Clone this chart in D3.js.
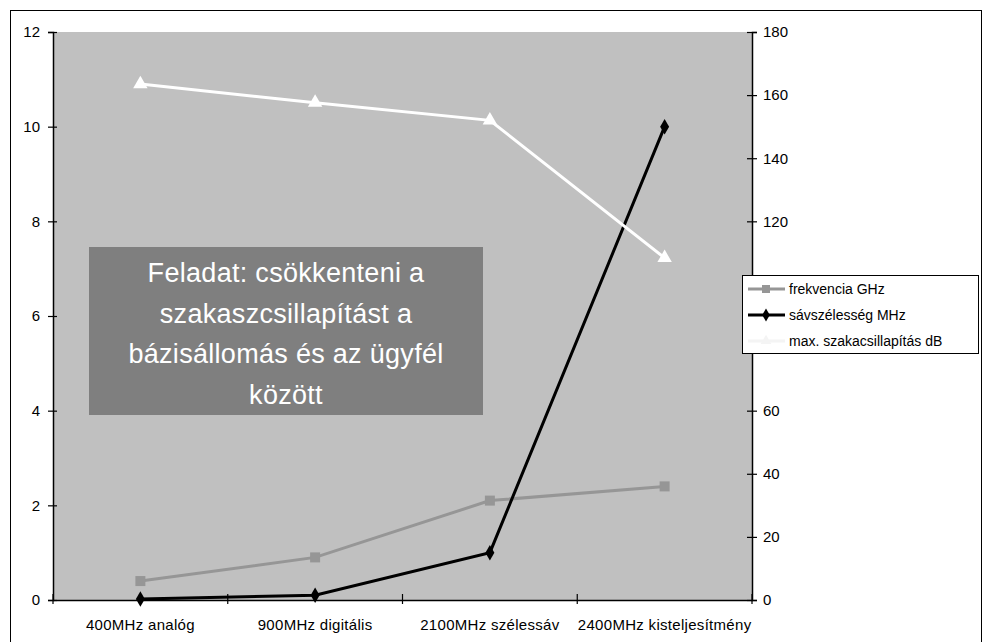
<!DOCTYPE html>
<html><head><meta charset="utf-8">
<script src="https://cdn.jsdelivr.net/npm/d3@7"></script>
<style>body{margin:0;background:#fff}svg{display:block}text{font-family:"Liberation Sans",Arial,sans-serif}</style>
</head><body>
<svg id="c" width="985" height="642"></svg>
<script>
const categories = ["400MHz analóg", "900MHz digitális", "2100MHz szélessáv", "2400MHz kisteljesítmény"];
const frekvencia = [0.4, 0.9, 2.1, 2.4];          // left axis
const savszelesseg = [0.02, 0.1, 1, 10];          // left axis
const csillapitas = [163.5, 157.6, 152, 108.4];   // right axis
const leftTicks = [0, 2, 4, 6, 8, 10, 12];
const rightTicks = [0, 20, 40, 60, 80, 100, 120, 140, 160, 180];
const seriesNames = ["frekvencia GHz", "sávszélesség MHz", "max. szakacsillapítás dB"];
const noteLines = ["Feladat: csökkenteni a", "szakaszcsillapítást a", "bázisállomás és az ügyfél", "között"];

const svg = d3.select("#c");
const L = 53, R = 752, T = 32, B = 600;

svg.append("rect").attr("x", 10.5).attr("y", 10.5).attr("width", 971).attr("height", 660)
  .attr("fill", "#fff").attr("stroke", "#000");
svg.append("rect").attr("x", L).attr("y", T).attr("width", R - L).attr("height", B - T).attr("fill", "#c0c0c0");

const x = d3.scaleBand().domain(categories).range([L, R]).padding(0);
const yL = d3.scaleLinear().domain([0, 12]).range([B, T]);
const yR = d3.scaleLinear().domain([0, 180]).range([B, T]);

// axes
const gL = svg.append("g").attr("transform", `translate(${L},0)`)
  .call(d3.axisLeft(yL).tickValues(leftTicks).tickSize(5).tickPadding(8));
const gR = svg.append("g").attr("transform", `translate(${R},0)`)
  .call(d3.axisRight(yR).tickValues(rightTicks).tickSize(5).tickPadding(6));
const gB = svg.append("g").attr("transform", `translate(0,${B})`)
  .call(d3.axisBottom(x).tickSize(0).tickPadding(19));
[gL, gR, gB].forEach(g => {
  g.selectAll("text").attr("font-size", 15).attr("fill", "#000").style("font-family", "Liberation Sans, Arial, sans-serif");
  g.select(".domain").attr("stroke", "#000").attr("stroke-width", 1.5);
  g.selectAll(".tick line").attr("stroke", "#000").attr("stroke-width", 1.2);
});
gB.selectAll("text").attr("letter-spacing", 0.3);
// cross ticks
gL.selectAll(".tick line").attr("x1", 4);
gR.selectAll(".tick line").attr("x1", -5);
// category boundary ticks on x axis
const bounds = categories.map(c => x(c)).concat([R]);
svg.append("g").selectAll("line").data(bounds).join("line")
  .attr("x1", d => d).attr("x2", d => d).attr("y1", B - 6).attr("y2", B + 4)
  .attr("stroke", "#000").attr("stroke-width", 1.2);

const cx = (d, i) => x(categories[i]) + x.bandwidth() / 2;

// note box
svg.append("rect").attr("x", 89).attr("y", 247).attr("width", 394).attr("height", 168).attr("fill", "#7f7f7f");
svg.append("g").selectAll("text").data(noteLines).join("text")
  .attr("x", 286).attr("y", (d, i) => 282 + i * 40.5).attr("text-anchor", "middle")
  .attr("font-size", 27).attr("fill", "#fff").attr("letter-spacing", 0.3).text(d => d);

const line = (ys, yscale) => d3.line().x(cx).y(d => yscale(d))(ys);

// frekvencia
svg.append("path").attr("d", line(frekvencia, yL)).attr("fill", "none").attr("stroke", "#969696").attr("stroke-width", 3);
svg.append("g").selectAll("rect").data(frekvencia).join("rect")
  .attr("x", (d, i) => cx(d, i) - 5).attr("y", d => yL(d) - 5).attr("width", 10).attr("height", 10).attr("fill", "#969696");

// sávszélesség
svg.append("path").attr("d", line(savszelesseg, yL)).attr("fill", "none").attr("stroke", "#000").attr("stroke-width", 3);
svg.append("g").selectAll("path").data(savszelesseg).join("path")
  .attr("d", d3.symbol(d3.symbolDiamond, 70))
  .attr("transform", (d, i) => `translate(${cx(d, i)},${yL(d)})`).attr("fill", "#000");

// csillapítás
svg.append("path").attr("d", line(csillapitas, yR)).attr("fill", "none").attr("stroke", "#fff").attr("stroke-width", 3);
svg.append("g").selectAll("path").data(csillapitas).join("path")
  .attr("d", d3.symbol(d3.symbolTriangle, 90))
  .attr("transform", (d, i) => `translate(${cx(d, i)},${yR(d)})`).attr("fill", "#fff");

// legend
const lg = svg.append("g");
lg.append("rect").attr("x", 742.5).attr("y", 275.5).attr("width", 236).attr("height", 78).attr("fill", "#fff").attr("stroke", "#000");
const legY = [289, 315, 341];
const legColors = ["#969696", "#000", "#f4f4f4"];
legY.forEach((yy, i) => {
  lg.append("line").attr("x1", 748).attr("x2", 785).attr("y1", yy).attr("y2", yy).attr("stroke", legColors[i]).attr("stroke-width", 3);
  if (i === 0) lg.append("rect").attr("x", 762).attr("y", yy - 4).attr("width", 8).attr("height", 8).attr("fill", legColors[i]);
  if (i === 1) lg.append("path").attr("d", d3.symbol(d3.symbolDiamond, 50)).attr("transform", `translate(766,${yy})`).attr("fill", "#000");
  if (i === 2) lg.append("path").attr("d", d3.symbol(d3.symbolTriangle, 50)).attr("transform", `translate(766,${yy})`).attr("fill", legColors[i]);
  lg.append("text").attr("x", 789).attr("y", yy + 5).attr("font-size", 14).attr("fill", "#000").text(seriesNames[i]);
});
</script>
</body></html>
